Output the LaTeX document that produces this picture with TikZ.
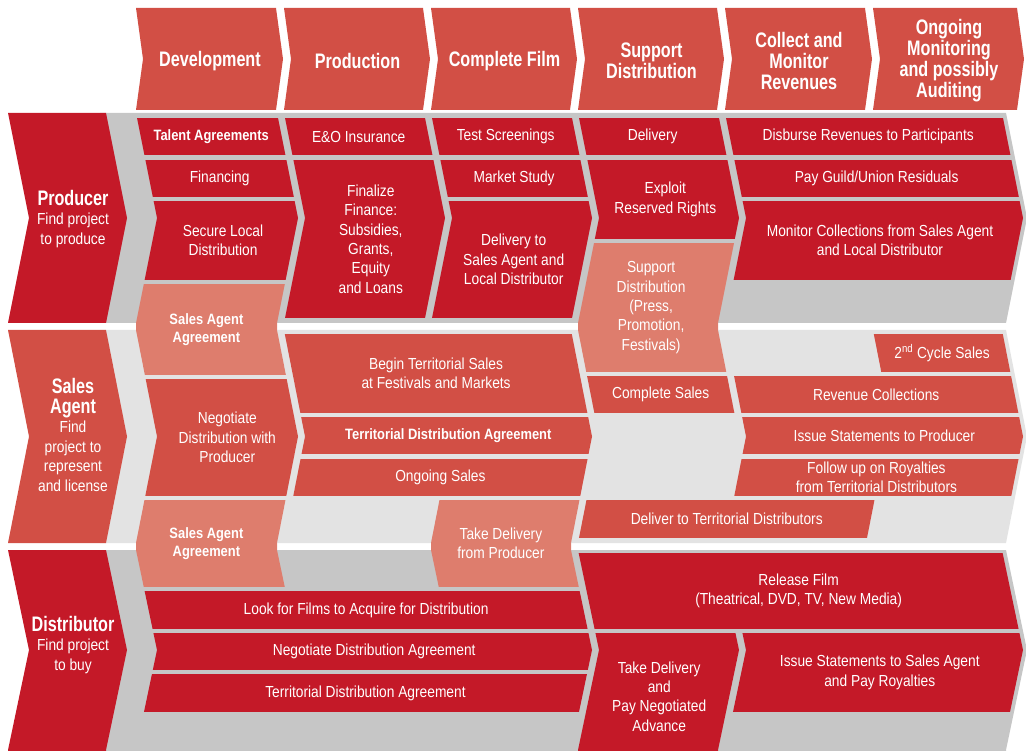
\documentclass[tikz,border=0pt]{standalone}
\usepackage{fontspec}
\setmainfont{Liberation Sans}[FakeStretch=0.86]
\newfontfamily\headfont{Liberation Sans}[FakeStretch=0.77]
\newcommand\lanetitlefont{\headfont\fontsize{21}{21}\selectfont\bfseries}

\definecolor{cellred}{RGB}{196,25,40}
\definecolor{midred}{RGB}{210,79,69}
\definecolor{salmon}{RGB}{222,125,109}
\definecolor{lanegray}{RGB}{198,198,198}
\definecolor{lanelight}{RGB}{227,227,227}

\newcommand\chevcell[8]{%
    \begin{scope}
        \clip (#1,113) -- (#1+21,218) -- (#1,323) -- (#1,330) -- (#1+21,436.5) -- (#1,543)
            -- (#1,550) -- (#1+21,650) -- (#1,750) -- (#1,760) -- (#2,760) -- (#2,750)
            -- (#2+21,650) -- (#2,550) -- (#2,543) -- (#2+21,436.5) -- (#2,330) -- (#2,323)
            -- (#2+21,218) -- (#2,113) -- cycle;
        \fill[#5] (#1-5,#3) rectangle (#2+30,#4);
    \end{scope}
    \pgfmathsetmacro\cellmidy{(#3+#4)/2}
    \pgfmathsetmacro\celloff{\cellmidy<326.5 ? 21*(1-abs(\cellmidy-218)/105) : (\cellmidy<546.5 ? 21*(1-abs(\cellmidy-436.5)/106.5) : 21*(1-abs(\cellmidy-650)/100))}
    \node[#7] (#6) at ({(#1+#2)/2+\celloff},\cellmidy) {#8};
}

\begin{document}
\begin{tikzpicture}[x=1pt, y=-1pt,
        celltext/.style={text=white, align=center, inner sep=0pt, font=\fontsize{16}{19.4}\selectfont},
        boldtext/.style={text=white, align=center, inner sep=0pt, font=\fontsize{15}{18.5}\selectfont\bfseries},
        headtext/.style={text=white, align=center, inner sep=0pt, font=\headfont\fontsize{21}{21}\selectfont\bfseries},
        lanetext/.style={text=white, align=center, inner sep=0pt, font=\fontsize{16}{19.6}\selectfont}
    ]
    \useasboundingbox (0,0) rectangle (1026,751);

    \fill[lanegray] (100,113) -- (1006,113) -- (1027,218) -- (1006,323) -- (100,323) -- cycle;
    \fill[lanelight] (100,330) -- (1006,330) -- (1027,436.5) -- (1006,543) -- (100,543) -- cycle;
    \fill[lanegray] (100,550) -- (1006,550) -- (1027,650) -- (1006,750) -- (1006,760) -- (100,760) -- cycle;

    \fill[cellred] (8,113) -- (106,113) -- (127,218) -- (106,323) -- (8,323) -- (29,218) -- cycle;
    \node[lanetext] (producer) at (73,219) {{\lanetitlefont Producer}\\Find project\\to produce};
    \fill[midred] (8,330) -- (106,330) -- (127,436.5) -- (106,543) -- (8,543) -- (29,436.5) -- cycle;
    \node[lanetext] (sales_agent) at (73,435) {{\lanetitlefont Sales}\\{\lanetitlefont Agent}\\Find\\project to\\represent\\and license};
    \fill[cellred] (8,550) -- (106,550) -- (127,650) -- (106,750) -- (106,760) -- (8,760) -- (8,750) -- (29,650) -- cycle;
    \node[lanetext] (distributor) at (73,645) {{\lanetitlefont Distributor}\\Find project\\to buy};

    \foreach \xl/\xr/\hname/\htext in {136/276/development/{Development}, 284/423/production/{Production},
            431/570/complete_film/{Complete Film}, 578/717/support/{Support\\Distribution},
            725/865/collect/{Collect and\\Monitor\\Revenues}, 873/1017/ongoing/{Ongoing\\Monitoring\\and possibly\\Auditing}} {
        \fill[midred] (\xl,8) -- (\xr,8) -- (\xr+7,59) -- (\xr,110) -- (\xl,110) -- (\xl+7,59) -- cycle;
        \node[headtext] (\hname) at ({(\xl+\xr)/2+4},61) {\htext};
    }

    \chevcell{136}{277}{118}{155}{cellred}{talent_agreements}{boldtext}{Talent Agreements}
    \chevcell{136}{277}{160}{197}{cellred}{financing}{celltext}{Financing}
    \chevcell{136}{277}{201}{280}{cellred}{secure_local}{celltext}{Secure Local\\Distribution}
    \chevcell{136}{277}{284}{375}{salmon}{sales_agreement_top}{boldtext}{Sales Agent\\Agreement}
    \chevcell{284}{424}{118}{155}{cellred}{eo_insurance}{celltext}{E\&O Insurance}
    \chevcell{284}{424}{160}{318}{cellred}{finalize_finance}{celltext}{Finalize\\Finance:\\Subsidies,\\Grants,\\Equity\\and Loans}
    \chevcell{431}{571}{118}{155}{cellred}{test_screenings}{celltext}{Test Screenings}
    \chevcell{431}{571}{160}{197}{cellred}{market_study}{celltext}{Market Study}
    \chevcell{431}{571}{201}{318}{cellred}{delivery_agent}{celltext}{Delivery to\\Sales Agent and\\Local Distributor}
    \chevcell{578}{718}{118}{155}{cellred}{delivery}{celltext}{Delivery}
    \chevcell{578}{718}{160}{239}{cellred}{exploit_rights}{celltext}{Exploit\\Reserved Rights}
    \chevcell{578}{718}{243}{372}{salmon}{support_distribution}{celltext}{Support\\Distribution\\(Press,\\Promotion,\\Festivals)}
    \chevcell{725}{1002}{118}{155}{cellred}{disburse_revenues}{celltext}{Disburse Revenues to Participants}
    \chevcell{725}{1002}{160}{197}{cellred}{pay_residuals}{celltext}{Pay Guild/Union Residuals}
    \chevcell{725}{1002}{201}{280}{cellred}{monitor_collections}{celltext}{Monitor Collections from Sales Agent\\and Local Distributor}

    \chevcell{136}{277}{379}{496}{midred}{negotiate_producer}{celltext}{Negotiate\\Distribution with\\Producer}
    \chevcell{136}{277}{500}{587}{salmon}{sales_agreement_bottom}{boldtext}{Sales Agent\\Agreement}
    \chevcell{284}{571}{334}{413}{midred}{begin_sales}{celltext}{Begin Territorial Sales\\at Festivals and Markets}
    \chevcell{284}{571}{417}{454}{midred}{territorial_agreement_sa}{boldtext}{Territorial Distribution Agreement}
    \chevcell{284}{571}{459}{496}{midred}{ongoing_sales}{celltext}{Ongoing Sales}
    \chevcell{431}{571}{500}{587}{salmon}{take_delivery_producer}{celltext}{Take Delivery\\from Producer}
    \chevcell{578}{718}{376}{413}{midred}{complete_sales}{celltext}{Complete Sales}
    \chevcell{578}{866}{500}{538}{midred}{deliver_territorial}{celltext}{Deliver to Territorial Distributors}
    \chevcell{873}{1002}{334}{372}{midred}{second_cycle}{celltext}{2\textsuperscript{nd} Cycle Sales}
    \chevcell{725}{1002}{376}{413}{midred}{revenue_collections}{celltext}{Revenue Collections}
    \chevcell{725}{1002}{417}{454}{midred}{statements_producer}{celltext}{Issue Statements to Producer}
    \chevcell{725}{1002}{459}{496}{midred}{follow_royalties}{celltext}{Follow up on Royalties\\from Territorial Distributors}

    \chevcell{136}{571}{591}{629}{cellred}{look_films}{celltext}{Look for Films to Acquire for Distribution}
    \chevcell{136}{571}{633}{670}{cellred}{negotiate_agreement}{celltext}{Negotiate Distribution Agreement}
    \chevcell{136}{571}{674}{712}{cellred}{territorial_agreement_d}{celltext}{Territorial Distribution Agreement}
    \chevcell{578}{1002}{553}{629}{cellred}{release_film}{celltext}{Release Film\\(Theatrical, DVD, TV, New Media)}
    \chevcell{578}{718}{633}{760}{cellred}{take_delivery_advance}{celltext}{Take Delivery\\and\\Pay Negotiated\\Advance}
    \chevcell{725}{1002}{633}{712}{cellred}{statements_agent}{celltext}{Issue Statements to Sales Agent\\and Pay Royalties}
\end{tikzpicture}
\end{document}
